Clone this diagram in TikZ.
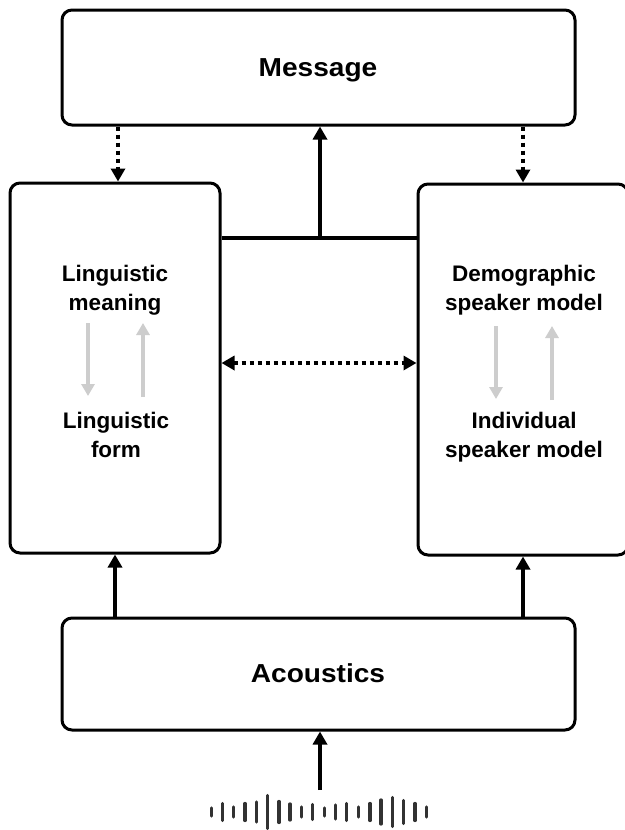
\documentclass[tikz,border=0pt]{standalone}
\usepackage{fontspec}
\setmainfont{Liberation Sans}
\newfontfamily\widefont[FakeStretch=1.08]{Liberation Sans}
\usetikzlibrary{arrows.meta,calc}
\begin{document}
\begin{tikzpicture}[x=1pt,y=-1pt,
  box/.style={draw=black,line width=3pt,rounded corners=10pt,inner sep=0pt},
  bigtxt/.style={font=\widefont\fontsize{26}{30}\selectfont\bfseries,inner sep=0pt},
  smalltxt/.style={font=\fontsize{22.5}{29}\selectfont\bfseries,inner sep=0pt,align=center},
  solidarrow/.style={line width=4pt,-{Triangle[width=14pt,length=13pt]}},
  dotarrow/.style={line width=4pt,dash pattern=on 4pt off 4pt,-{Triangle[width=14pt,length=13pt]}},
  dotdouble/.style={line width=4pt,dash pattern=on 4pt off 4pt,{Triangle[width=14pt,length=13pt]}-{Triangle[width=14pt,length=13pt]}},
  grayarrow/.style={draw={rgb,255:red,205;green,205;blue,205},line width=4pt,-{Triangle[width=13pt,length=12pt]}},
  wave/.style={draw={rgb,255:red,50;green,50;blue,50},line width=3.3pt,line cap=round}
]
\useasboundingbox[fill=white] (0,0) rectangle (624,830);

% boxes
\node[box,minimum width=513pt,minimum height=115pt] (M) at (318.5,67.5) {};
\node[box,minimum width=210pt,minimum height=370pt] (L) at (115,368) {};
\node[box,minimum width=210pt,minimum height=371pt] (R) at (523,369.5) {};
\node[box,minimum width=513pt,minimum height=112pt] (A) at (318.5,674) {};

% texts
\node[bigtxt,anchor=base] (tm) at (318,76.5) {Message};
\node[bigtxt,anchor=base] (ta) at (318,682.5) {Acoustics};
\node[smalltxt] (lm) at (115,290) {Linguistic\\meaning};
\node[smalltxt] (lf) at (116,434.5) {Linguistic\\form};
\node[smalltxt] (rd) at (524,290) {Demographic\\speaker model};
\node[smalltxt] (ri) at (524,436.8) {Individual\\speaker model};

% gray arrows
\coordinate (lg1) at (88,323);
\coordinate (lg2) at (88,396);
\coordinate (lg3) at (143,397);
\coordinate (lg4) at (143,323);
\draw[grayarrow] (lg1) -- (lg2);
\draw[grayarrow] (lg3) -- (lg4);
\coordinate (rg1) at (496,326);
\coordinate (rg2) at (496,399);
\coordinate (rg3) at (552,400);
\coordinate (rg4) at (552,326);
\draw[grayarrow] (rg1) -- (rg2);
\draw[grayarrow] (rg3) -- (rg4);

% connectors
\coordinate (j) at (320,238);
\draw[line width=4pt] (L.east |- j) -- (R.west |- j);
\draw[solidarrow] (j) -- (j |- M.south);
\draw[dotarrow] (M.south -| 118,0) -- (118,0 |- L.north);
\draw[dotarrow] (M.south -| R.north) -- (R.north);
\coordinate (mid) at (320,363);
\draw[dotdouble] (L.east |- mid) -- (R.west |- mid);
\draw[solidarrow] (A.north -| L.south) -- (L.south);
\draw[solidarrow] (A.north -| R.south) -- (R.south);
\coordinate (w) at (320,790);
\draw[solidarrow] (w) -- (w |- A.south);

% waveform
\foreach \x/\h in {211.7/11, 222.3/20, 233.3/13, 245/20, 256.7/23, 267.7/36, 279/24, 290/19, 301.7/13, 312.7/18, 324.3/11, 335.7/17, 346.7/20, 358.3/13, 370/20, 381/27, 392.3/32, 403.3/26, 415/20, 426.7/13}{
  \draw[wave] (\x,812-\h/2+1.5) -- (\x,812+\h/2-1.5);
}
\end{tikzpicture}
\end{document}
